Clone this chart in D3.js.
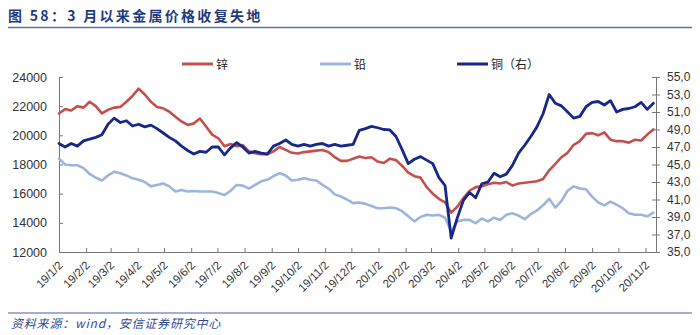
<!DOCTYPE html>
<html><head><meta charset="utf-8">
<script src="https://cdn.jsdelivr.net/npm/d3@7"></script>
<style>body{margin:0;background:#fff} svg{display:block}</style>
</head><body><svg id="c" width="700" height="335"></svg>
<script>
const titleText = "图 58：3 月以来金属价格收复失地";
const sourceText = "资料来源：wind，安信证券研究中心";
const seriesNames = ["锌", "铅", "铜（右）"];
const startDate = "2019-01-02";
const weekCount = 98;
const xTickLabels = ["19/1/2","19/2/2","19/3/2","19/4/2","19/5/2","19/6/2","19/7/2","19/8/2","19/9/2","19/10/2","19/11/2","19/12/2",
  "20/1/2","20/2/2","20/3/2","20/4/2","20/5/2","20/6/2","20/7/2","20/8/2","20/9/2","20/10/2","20/11/2"];
const leftTicks = [12000,14000,16000,18000,20000,22000,24000];
const rightTicks = [35,37,39,41,43,45,47,49,51,53,55];

const zinc = [21500,21800,21700,22000,21900,22300,22000,21500,21750,21900,21950,22300,22700,23200,22800,22300,21950,21850,21620,21280,20950,20710,20820,21150,20600,20050,19800,19250,19400,19250,19330,18900,18780,18700,
  18700,18900,19200,19000,18800,18750,18850,18900,18950,19000,18850,18500,18250,18250,18400,18550,18450,18500,18200,18100,18400,18300,17900,17450,17200,17100,16450,16000,15650,15400,14700,15100,
  15700,16200,16450,16500,16650,16750,16700,16800,16550,16700,16750,16800,16850,17000,17600,18050,18500,18800,19350,19600,20100,20150,20000,20200,19700,19600,19600,19500,19700,19650,20050,20400];
const lead = [18400,18000,17950,17950,17750,17350,17100,16900,17250,17500,17400,17250,17050,16950,16800,16500,16600,16700,16500,16150,16250,16150,16180,16150,16150,16150,16050,15900,16200,16600,16550,16350,16600,16850,
  16950,17200,17400,17250,16900,16950,17050,16950,16900,16600,16350,15950,15800,15600,15350,15400,15300,15150,15000,15000,15050,15000,14800,14450,14100,14400,14550,14500,14550,14350,13400,14100,
  14200,14200,13970,14300,14100,14350,14200,14550,14650,14500,14250,14600,14850,15200,15650,15050,15500,16200,16500,16350,16300,15800,15400,15200,15450,15250,15000,14650,14550,14550,14450,14700];
const copper = [47.4,47.0,47.4,47.1,47.7,47.9,48.1,48.4,49.6,50.3,49.8,50.0,49.4,49.6,49.3,49.5,49.1,48.6,48.1,47.7,47.1,46.6,46.2,46.5,46.4,47.0,47.0,46.1,46.9,47.5,47.0,46.3,46.5,46.3,
  46.2,47.1,47.4,47.8,47.3,47.1,47.3,47.1,47.3,47.4,47.1,47.3,47.1,47.2,47.3,48.9,49.1,49.35,49.2,49.0,48.95,48.2,46.7,45.1,45.6,45.9,45.5,45.1,43.5,42.6,36.6,38.9,
  40.9,41.8,41.2,42.8,43.0,44.0,43.6,43.9,44.9,46.3,47.2,48.2,49.3,50.8,53.0,52.0,51.7,51.0,50.3,50.5,51.6,52.1,52.2,51.8,52.3,51.0,51.3,51.4,51.6,52.1,51.3,52.0];

const colors = {zinc:"#C4504E", lead:"#9DB4DE", copper:"#18288A"};

const parseTick = s => { const [y,m,d] = s.split("/").map(Number); return new Date(2000+y, m-1, d); };
const t0 = d3.timeParse("%Y-%m-%d")(startDate);
const dates = d3.range(weekCount).map(i => d3.timeDay.offset(t0, 7*i));

const svg = d3.select("#c");
const W = 700, H = 335;
svg.append("rect").attr("width",W).attr("height",H).attr("fill","#fff");

const x = d3.scaleTime().domain([t0, new Date(2020,10,14)]).range([59, 656]);
const yL = d3.scaleLinear().domain([12000,24000]).range([252,77]);
const yR = d3.scaleLinear().domain([35,55]).range([252,77]);

// title
svg.append("text").attr("x",8).attr("y",21).text(titleText)
  .attr("font-family","'Noto Sans CJK SC', sans-serif").attr("font-weight","bold")
  .attr("font-size",14).attr("letter-spacing","2.3px").attr("fill","#1F3C7C");
svg.append("line").attr("x1",8).attr("x2",692).attr("y1",27.5).attr("y2",27.5)
  .attr("stroke","#5874AC").attr("stroke-width",1.5);

// footer
svg.append("line").attr("x1",8).attr("x2",692).attr("y1",313).attr("y2",313)
  .attr("stroke","#7F96C4").attr("stroke-width",1.5);
svg.append("text").attr("x",11).attr("y",328).text(sourceText)
  .attr("font-family","'Noto Sans CJK SC', sans-serif").attr("font-style","italic")
  .attr("font-size",12).attr("letter-spacing","0.8px").attr("fill","#2E4C96");

const axisColor = "#777", textColor = "#333";
const numFont = "'Liberation Sans', Arial, sans-serif";

// left axis
const gL = svg.append("g").attr("transform","translate(59,0)")
  .call(d3.axisLeft(yL).tickValues(leftTicks).tickFormat(d3.format("d")).tickSize(-4).tickSizeOuter(0).tickPadding(12));
// right axis
const gR = svg.append("g").attr("transform","translate(656,0)")
  .call(d3.axisRight(yR).tickValues(rightTicks).tickFormat(d => d.toFixed(1).replace(".", ",")).tickSize(4).tickSizeOuter(0).tickPadding(7));
gR.selectAll(".tick line").attr("x1",-4).attr("x2",4);
// bottom axis
const tickDates = xTickLabels.map(parseTick);
const gB = svg.append("g").attr("transform","translate(0,252)")
  .call(d3.axisBottom(x).tickValues(tickDates).tickSize(-4).tickSizeOuter(0));
gB.selectAll(".tick text").remove();
gB.selectAll(".tick").append("text")
  .attr("transform","translate(4,14) rotate(-45)")
  .attr("text-anchor","end").attr("fill",textColor)
  .text((d,i) => xTickLabels[i]);
gB.select(".domain").attr("d","M59,0.5H656");

[gL,gR,gB].forEach(g => {
  g.selectAll(".domain").attr("stroke",axisColor);
  g.selectAll(".tick line").attr("stroke",axisColor);
  g.selectAll("text").attr("font-family",numFont).attr("fill",textColor);
});
gL.selectAll("text").attr("font-size",12.5);
gR.selectAll("text").attr("font-size",12);
gB.selectAll("text").attr("font-size",11.5);

// lines
const lineL = d3.line().x((d,i) => x(dates[i])).y(d => yL(d));
const lineR = d3.line().x((d,i) => x(dates[i])).y(d => yR(d));
const plot = svg.append("g").attr("fill","none").attr("stroke-linejoin","round").attr("stroke-linecap","round");
plot.append("path").attr("d",lineL(lead)).attr("stroke",colors.lead).attr("stroke-width",2.6);
plot.append("path").attr("d",lineL(zinc)).attr("stroke",colors.zinc).attr("stroke-width",2.6);
plot.append("path").attr("d",lineR(copper)).attr("stroke",colors.copper).attr("stroke-width",2.8);

// legend
const legend = [
  {name:seriesNames[0], color:colors.zinc, x:182},
  {name:seriesNames[1], color:colors.lead, x:320},
  {name:seriesNames[2], color:colors.copper, x:457}
];
const lg = svg.append("g");
legend.forEach(l => {
  lg.append("line").attr("x1",l.x).attr("x2",l.x+31).attr("y1",64).attr("y2",64)
    .attr("stroke",l.color).attr("stroke-width",3);
  lg.append("text").attr("x",l.x+34).attr("y",68.5).text(l.name)
    .attr("font-family","'Noto Sans CJK SC', sans-serif").attr("font-size",12).attr("fill","#222");
});
</script></body></html>
